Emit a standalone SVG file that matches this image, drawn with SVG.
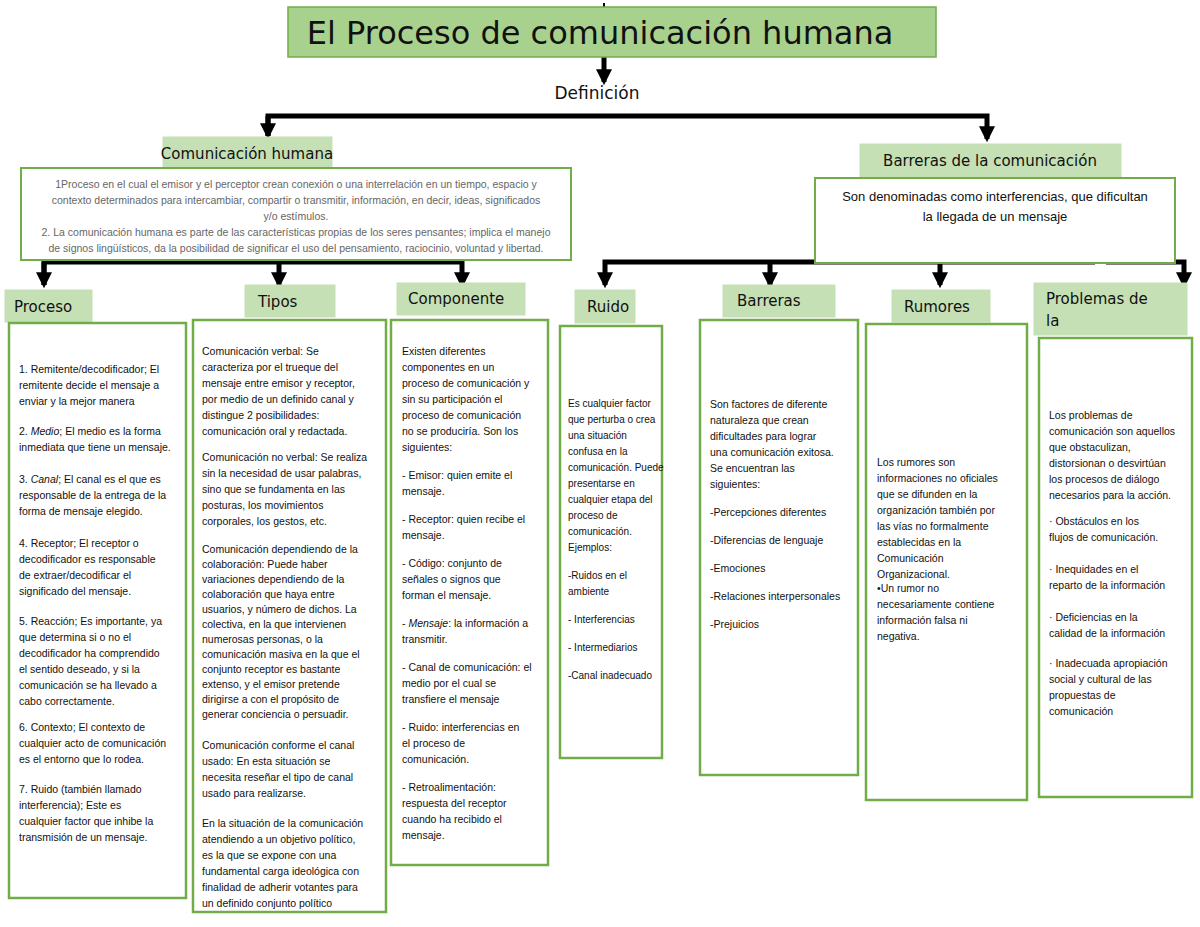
<svg xmlns="http://www.w3.org/2000/svg" width="1200" height="927" viewBox="0 0 1200 927">
<style>
.lab{fill:#c5e0b4;stroke:#c5e0b4}
.lab2{fill:#a9d18e;stroke:#70ad47;stroke-width:1.5}
.box{fill:#fff;stroke:#70ad47;stroke-width:2.5}
.h{font-family:"DejaVu Sans",sans-serif;fill:#111}
.t{font-family:"Liberation Sans",sans-serif;font-size:10.5px;fill:#111}
.g{font-family:"Liberation Sans",sans-serif;font-size:10.5px;fill:#666}
.c{stroke:#000;stroke-width:5;fill:none}
</style>
<defs><marker id="a" viewBox="0 0 10 10" refX="8" refY="5" markerWidth="3.2" markerHeight="3.2" orient="auto"><path d="M0,0 L10,5 L0,10 Z" fill="#000"/></marker></defs>
<rect width="1200" height="927" fill="#fff"/>
<g id="connectors">
<line x1="604" y1="3" x2="604" y2="8" stroke="#000" stroke-width="2"/>
<path class="c" d="M604,57 V82" marker-end="url(#a)"/>
<path class="c" d="M268,136 V116 H987 V139" marker-end="url(#a)"/>
<path class="c" d="M268,116 V136" marker-end="url(#a)"/>
<path class="c" d="M44,285 V262 H462 V285" marker-end="url(#a)"/>
<path class="c" d="M44,262 V285" marker-end="url(#a)"/>
<path class="c" d="M279,262 V285" marker-end="url(#a)"/>
<path class="c" d="M1095,262 H605 V285" marker-end="url(#a)"/>
<path class="c" d="M770,262 V285" marker-end="url(#a)"/>
<path class="c" d="M940,262 V285" marker-end="url(#a)"/>
<path class="c" d="M1106,262 H1184 V285" marker-end="url(#a)"/>
</g>
<g id="title"><rect class="lab2" x="288" y="7" width="648" height="50"/><text class="h" x="600" y="44" font-size="32" text-anchor="middle">El Proceso de comunicación humana</text></g>
<g id="definicion"><text class="h" x="597" y="99" font-size="17" text-anchor="middle">Definición</text></g>
<g id="comunicacion">
<rect class="lab" x="163" y="137" width="169" height="31"/><text class="h" x="247" y="159" font-size="15" text-anchor="middle">Comunicación humana</text>
<rect x="21" y="168" width="550" height="92" fill="#fff" stroke="#70ad47" stroke-width="2"/>
<g class="g" text-anchor="middle">
<text x="296" y="188">1Proceso en el cual el emisor y el perceptor crean conexión o una interrelación en un tiempo, espacio y</text>
<text x="296" y="204">contexto determinados para intercambiar, compartir o transmitir, información, en decir, ideas, significados</text>
<text x="296" y="220">y/o estímulos.</text>
<text x="296" y="236">2. La comunicación humana es parte de las características propias de los seres pensantes; implica el manejo</text>
<text x="296" y="252">de signos lingüísticos, da la posibilidad de significar el uso del pensamiento, raciocinio, voluntad y libertad.</text>
</g></g>
<g id="barreras-com">
<rect class="lab" x="860" y="144" width="261" height="33"/><text class="h" x="990" y="166" font-size="15" text-anchor="middle">Barreras de la comunicación</text>
<rect x="815" y="178" width="360" height="85" fill="#fff" stroke="#70ad47" stroke-width="2"/>
<g class="t" style="font-size:13px" text-anchor="middle"><text x="995" y="201">Son denominadas como interferencias, que dificultan</text><text x="995" y="221">la llegada de un mensaje</text></g>
</g>
<g id="proceso">
<rect class="lab" x="5" y="290" width="87" height="32"/><text class="h" x="14" y="312" font-size="15">Proceso</text>
<rect class="box" x="9" y="323" width="177" height="575"/>
<g class="t">
<text x="19" y="373">1. Remitente/decodificador; El</text><text x="19" y="389">remitente decide el mensaje a</text><text x="19" y="405">enviar y la mejor manera</text>
<text x="19" y="435">2.  <tspan font-style="italic">Medio</tspan>; El medio es la forma</text><text x="19" y="451">inmediata que tiene un mensaje.</text>
<text x="19" y="483">3.  <tspan font-style="italic">Canal</tspan>; El canal es el que es</text><text x="19" y="499">responsable de la entrega de la</text><text x="19" y="515">forma de mensaje elegido.</text>
<text x="19" y="547">4.  Receptor; El receptor o</text><text x="19" y="563">decodificador es responsable</text><text x="19" y="579">de extraer/decodificar el</text><text x="19" y="595">significado del mensaje.</text>
<text x="19" y="625">5.  Reacción; Es importante, ya</text><text x="19" y="641">que determina si o no el</text><text x="19" y="657">decodificador ha comprendido</text><text x="19" y="673">el sentido deseado, y si la</text><text x="19" y="689">comunicación se ha llevado a</text><text x="19" y="705">cabo correctamente.</text>
<text x="19" y="731">6.  Contexto; El contexto de</text><text x="19" y="747">cualquier acto de comunicación</text><text x="19" y="763">es el entorno que lo rodea.</text>
<text x="19" y="793">7.  Ruido (también llamado</text><text x="19" y="809">interferencia); Este es</text><text x="19" y="825">cualquier factor que inhibe la</text><text x="19" y="841">transmisión de un mensaje.</text>
</g></g>
<g id="tipos">
<rect class="lab" x="245" y="285" width="90" height="32"/><text class="h" x="258" y="307" font-size="15">Tipos</text>
<rect class="box" x="193" y="320" width="193" height="592"/>
<g class="t">
<text x="202" y="355">Comunicación verbal: Se</text><text x="202" y="371">caracteriza por el trueque del</text><text x="202" y="387">mensaje entre emisor y receptor,</text><text x="202" y="403">por medio de un definido canal y</text><text x="202" y="419">distingue 2 posibilidades:</text><text x="202" y="435">comunicación oral y redactada.</text>
<text x="202" y="461">Comunicación no verbal: Se realiza</text><text x="202" y="477">sin la necesidad de usar palabras,</text><text x="202" y="493">sino que se fundamenta en las</text><text x="202" y="509">posturas, los movimientos</text><text x="202" y="525">corporales, los gestos, etc.</text>
<text x="202" y="553">Comunicación dependiendo de la</text><text x="202" y="568">colaboración: Puede haber</text><text x="202" y="583">variaciones dependiendo de la</text><text x="202" y="598">colaboración que haya entre</text><text x="202" y="613">usuarios, y número de dichos. La</text><text x="202" y="628">colectiva, en la que intervienen</text><text x="202" y="643">numerosas personas, o la</text><text x="202" y="658">comunicación masiva en la que el</text><text x="202" y="673">conjunto receptor es bastante</text><text x="202" y="688">extenso, y el emisor pretende</text><text x="202" y="703">dirigirse a con el propósito de</text><text x="202" y="718">generar conciencia o persuadir.</text>
<text x="202" y="749">Comunicación conforme el canal</text><text x="202" y="765">usado: En esta situación se</text><text x="202" y="781">necesita reseñar el tipo de canal</text><text x="202" y="797">usado para realizarse.</text>
<text x="202" y="827">En la situación de la comunicación</text><text x="202" y="843">atendiendo a un objetivo político,</text><text x="202" y="859">es la que se expone con una</text><text x="202" y="875">fundamental carga ideológica con</text><text x="202" y="891">finalidad de adherir votantes para</text><text x="202" y="907">un definido conjunto político</text>
</g></g>
<g id="componente">
<rect class="lab" x="397" y="283" width="128" height="32"/><text class="h" x="408" y="304" font-size="15">Componente</text>
<rect class="box" x="391" y="320" width="157" height="545"/>
<g class="t">
<text x="402" y="355">Existen diferentes</text><text x="402" y="371">componentes en  un</text><text x="402" y="387">proceso de comunicación y</text><text x="402" y="403">sin su participación el</text><text x="402" y="419">proceso de comunicación</text><text x="402" y="435">no se produciría. Son los</text><text x="402" y="451">siguientes:</text>
<text x="402" y="479">- Emisor: quien emite el</text><text x="402" y="495">mensaje.</text>
<text x="402" y="523">- Receptor: quien recibe el</text><text x="402" y="539">mensaje.</text>
<text x="402" y="567">- Código: conjunto de</text><text x="402" y="583">señales o signos que</text><text x="402" y="599">forman el mensaje.</text>
<text x="402" y="627">- <tspan font-style="italic">Mensaje</tspan>: la información a</text><text x="402" y="643">transmitir.</text>
<text x="402" y="671">- Canal de comunicación: el</text><text x="402" y="687">medio por el cual se</text><text x="402" y="703">transfiere el mensaje</text>
<text x="402" y="731">- Ruido: interferencias en</text><text x="402" y="747">el proceso de</text><text x="402" y="763">comunicación.</text>
<text x="402" y="791">- Retroalimentación:</text><text x="402" y="807">respuesta del receptor</text><text x="402" y="823">cuando ha recibido el</text><text x="402" y="839">mensaje.</text>
</g></g>
<g id="ruido">
<rect class="lab" x="575" y="290" width="60" height="33"/><text class="h" x="587" y="312" font-size="15">Ruido</text>
<rect class="box" x="560" y="326" width="102" height="432"/>
<g class="t" style="font-size:10px">
<text x="568" y="407">Es cualquier factor</text><text x="568" y="423">que perturba o crea</text><text x="568" y="439">una situación</text><text x="568" y="455">confusa en la</text><text x="568" y="471">comunicación. Puede</text><text x="568" y="487">presentarse en</text><text x="568" y="503">cualquier etapa del</text><text x="568" y="519">proceso de</text><text x="568" y="535">comunicación.</text><text x="568" y="551">Ejemplos:</text>
<text x="568" y="579">-Ruidos en el</text><text x="568" y="595">ambiente</text><text x="568" y="623">- Interferencias</text><text x="568" y="651">- Intermediarios</text><text x="568" y="679">-Canal inadecuado</text>
</g></g>
<g id="barreras">
<rect class="lab" x="723" y="285" width="112" height="32"/><text class="h" x="737" y="306" font-size="15">Barreras</text>
<rect class="box" x="700" y="320" width="158" height="455"/>
<g class="t">
<text x="710" y="408">Son factores de diferente</text><text x="710" y="424">naturaleza que crean</text><text x="710" y="440">dificultades para lograr</text><text x="710" y="456">una comunicación exitosa.</text><text x="710" y="472">Se encuentran las</text><text x="710" y="488">siguientes:</text>
<text x="710" y="516">-Percepciones diferentes</text><text x="710" y="544">-Diferencias de lenguaje</text><text x="710" y="572">-Emociones</text><text x="710" y="600">-Relaciones interpersonales</text><text x="710" y="628">-Prejuicios</text>
</g></g>
<g id="rumores">
<rect class="lab" x="892" y="290" width="98" height="32"/><text class="h" x="904" y="312" font-size="15">Rumores</text>
<rect class="box" x="866" y="324" width="161" height="476"/>
<g class="t">
<text x="877" y="466">Los rumores son</text><text x="877" y="482">informaciones no oficiales</text><text x="877" y="498">que se difunden en la</text><text x="877" y="514">organización también por</text><text x="877" y="530">las vías no formalmente</text><text x="877" y="546">establecidas en la</text><text x="877" y="562">Comunicación</text><text x="877" y="578">Organizacional.</text>
<text x="877" y="592">•Un rumor no</text><text x="877" y="608">necesariamente contiene</text><text x="877" y="624">información falsa ni</text><text x="877" y="640">negativa.</text>
</g></g>
<g id="problemas">
<rect class="lab" x="1034" y="283" width="153" height="52"/><text class="h" x="1046" y="304" font-size="15">Problemas de</text><text class="h" x="1046" y="326" font-size="15">la</text>
<rect class="box" x="1039" y="338" width="153" height="459"/>
<g class="t">
<text x="1049" y="419">Los problemas de</text><text x="1049" y="435">comunicación son aquellos</text><text x="1049" y="451">que obstaculizan,</text><text x="1049" y="467">distorsionan o desvirtúan</text><text x="1049" y="483">los procesos de diálogo</text><text x="1049" y="499">necesarios para la acción.</text>
<text x="1049" y="525">·  Obstáculos en los</text><text x="1049" y="541">flujos de comunicación.</text>
<text x="1049" y="573">·  Inequidades en el</text><text x="1049" y="589">reparto de la información</text>
<text x="1049" y="621">·  Deficiencias en la</text><text x="1049" y="637">calidad de la información</text>
<text x="1049" y="667">·  Inadecuada apropiación</text><text x="1049" y="683">social y cultural de las</text><text x="1049" y="699">propuestas de</text><text x="1049" y="715">comunicación</text>
</g></g>
</svg>
